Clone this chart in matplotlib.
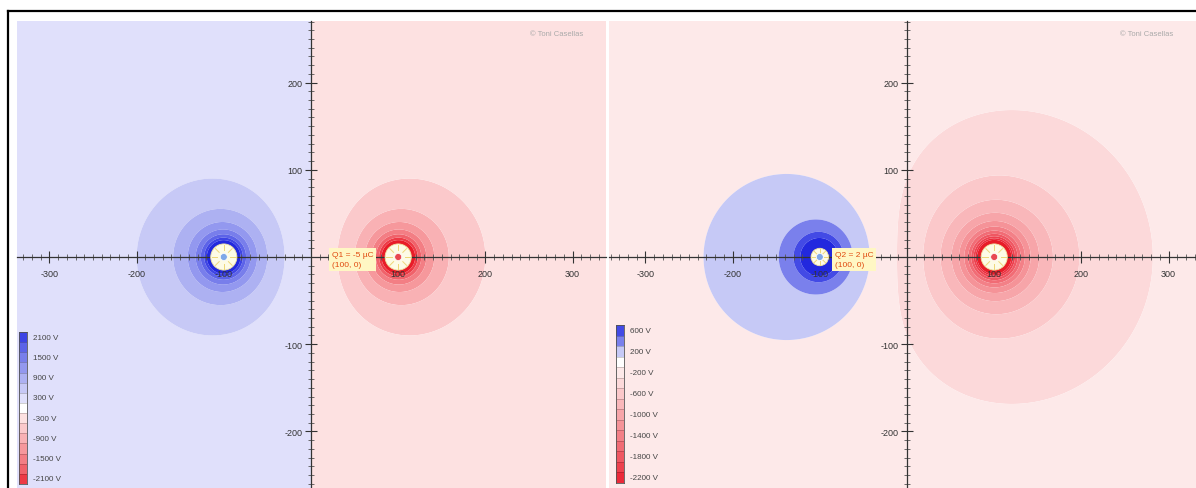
import numpy as np
import matplotlib
matplotlib.use("Agg")
import matplotlib.pyplot as plt
from matplotlib.colors import ListedColormap, BoundaryNorm
from matplotlib.ticker import MultipleLocator, FixedLocator
from matplotlib.patches import Circle
from matplotlib.lines import Line2D

plt.rcParams["font.family"] = ["Liberation Sans", "DejaVu Sans"]

# ---------------- data ----------------
K = 8990  # V * unit / uC

p1_charge_x = [-100, 100]
p1_charge_y = [0, 0]
p1_charge_q = [5, -5]
p1_levels = [-2100, -1800, -1500, -1200, -900, -600, -300, 0,
             300, 600, 900, 1200, 1500, 1800, 2100]
p1_cbar_labels = ["2100 V", "1500 V", "900 V", "300 V",
                  "-300 V", "-900 V", "-1500 V", "-2100 V"]
p1_tip = "Q1 = -5 \u00b5C\n(100, 0)"
p1_tip_xy = (24, -3)

p2_charge_x = [-100, 100]
p2_charge_y = [0, 0]
p2_charge_q = [2, -5]
p2_levels = [-2200, -2000, -1800, -1600, -1400, -1200, -1000, -800,
             -600, -400, -200, 0, 200, 400, 600]
p2_cbar_labels = ["600 V", "200 V", "-200 V", "-600 V", "-1000 V",
                  "-1400 V", "-1800 V", "-2200 V"]
p2_tip = "Q2 = 2 \u00b5C\n(100, 0)"
p2_tip_xy = (-83, -3)

xtick_vals = [-300, -200, -100, 100, 200, 300]
ytick_vals = [-200, -100, 100, 200]
watermark = "\u00a9 Toni Casellas"

# ---------------- styles ----------------
p1_blue = ["#e0e0fb", "#c7c9f6", "#adb1f2", "#9398ef", "#787eeb", "#5c63e8", "#3d44e4"]
p1_red = ["#fde1e1", "#fbc9cb", "#f9b1b4", "#f6989c", "#f37e84", "#f0626a", "#ed3a45"]
p2_blue = ["#c6c9f6", "#7a80ec", "#434ae5"]
p2_red = ["#fde9e9", "#fcd9da", "#fbc8ca", "#f9b7ba", "#f7a5a9", "#f59398",
          "#f38087", "#f16c75", "#ef5762", "#ed414e", "#eb2a3a"]
over_blue = "#2228de"
under_red = "#e81c28"

W, H = 1196, 489
S = 0.872  # px per unit
TOP, BOT, OY = 22, 489, 258

fig = plt.figure(figsize=(W / 100, H / 100), dpi=100)
fig.patch.set_facecolor("white")


def make_panel(left, right, ox, cx, cy, cq, levels, colors, cbar_cells,
               cbar_labels, cbar_px, tip, tip_xy):
    ax = fig.add_axes([left / W, 1 - BOT / H, (right - left) / W, (BOT - TOP) / H])
    x0, x1 = (left - ox) / S, (right - ox) / S
    y0, y1 = (OY - BOT) / S, (OY - TOP) / S
    gx = np.linspace(x0 - 5, x1 + 5, 1300)
    gy = np.linspace(y0 - 5, y1 + 5, 1000)
    X, Y = np.meshgrid(gx, gy)
    V = np.zeros_like(X)
    for xx, yy, q in zip(cx, cy, cq):
        r = np.hypot(X - xx, Y - yy)
        V += K * q / np.maximum(r, 0.5)
    V = np.clip(V, -1e5, 1e5)
    cmap = ListedColormap(colors)
    cmap.set_over(over_blue)
    cmap.set_under(under_red)
    norm = BoundaryNorm(levels, cmap.N)
    ax.contourf(X, Y, V, levels=levels, cmap=cmap, norm=norm, extend="both",
                antialiased=True)
    ax.set_xlim(x0, x1)
    ax.set_ylim(y0, y1)
    ax.set_aspect("auto")

    for sp in ["top", "right"]:
        ax.spines[sp].set_visible(False)
    ax.spines["left"].set_position(("data", 0))
    ax.spines["bottom"].set_position(("data", 0))
    for sp in ["left", "bottom"]:
        ax.spines[sp].set_color("#333333")
        ax.spines[sp].set_linewidth(0.9)
        ax.spines[sp].set_zorder(3)
    ax.xaxis.set_major_locator(FixedLocator(xtick_vals))
    ax.yaxis.set_major_locator(FixedLocator(ytick_vals))
    ax.xaxis.set_minor_locator(MultipleLocator(10))
    ax.yaxis.set_minor_locator(MultipleLocator(10))
    ax.tick_params(which="major", direction="inout", length=8, width=0.8,
                   color="#333333", labelsize=6.5, labelcolor="#333333", pad=2)
    ax.tick_params(axis="x", which="major", pad=5)
    ax.tick_params(which="minor", direction="inout", length=4, width=0.6,
                   color="#555555")
    ax.set_xticklabels([str(v) for v in xtick_vals])
    ax.set_yticklabels([str(v) for v in ytick_vals])

    # charges
    for xx, yy, q in zip(cx, cy, cq):
        rad = 15 if abs(q) >= 5 else 10
        ax.add_patch(Circle((xx, yy), rad, facecolor="#fdfbe6", edgecolor="#efe3a0",
                            linewidth=0.6, zorder=5))
        for a in np.linspace(0, 2 * np.pi, 8, endpoint=False):
            ax.plot([xx + 0.5 * rad * np.cos(a), xx + 0.9 * rad * np.cos(a)],
                    [yy + 0.5 * rad * np.sin(a), yy + 0.9 * rad * np.sin(a)],
                    color="#eed777", linewidth=0.7, zorder=6)
        c = "#7fa8e8" if q > 0 else "#e84850"
        ax.add_patch(Circle((xx, yy), 4, facecolor=c, edgecolor="white",
                            linewidth=0.5, zorder=7))

    ax.text(tip_xy[0], tip_xy[1], tip, fontsize=6, color="#e04a10", va="center",
            ha="left", linespacing=1.5, zorder=8,
            bbox=dict(boxstyle="square,pad=0.35", facecolor="#fff7c4",
                      edgecolor="none"))

    # colorbar
    cl, cr, ct, cb = cbar_px
    cax = fig.add_axes([cl / W, 1 - cb / H, (cr - cl) / W, (cb - ct) / H])
    n = len(cbar_cells)
    cax.pcolormesh(np.array([[i] for i in range(n)]), cmap=ListedColormap(cbar_cells),
                   edgecolors="#00000030", linewidth=0.4)
    cax.set_xlim(0, 1)
    cax.set_ylim(n, 0)
    cax.set_xticks([])
    cax.set_yticks([])
    for sp in cax.spines.values():
        sp.set_color("#555555")
        sp.set_linewidth(0.6)
    for i, lab in enumerate(cbar_labels):
        cax.text(1.8, 2 * i + 0.5, lab, fontsize=5.8, color="#444444",
                 va="center", ha="left", transform=cax.transData, clip_on=False)
    fig.text((right - 76) / W, 1 - 35 / H, watermark, fontsize=5.5,
             color="#aaaaaa", va="center", ha="left")
    return ax


make_panel(17, 606, 311, p1_charge_x, p1_charge_y, p1_charge_q, p1_levels,
           p1_red[::-1] + p1_blue, p1_blue[::-1] + ["#ffffff"] + p1_red,
           p1_cbar_labels, (19, 27, 333, 485), p1_tip, p1_tip_xy)
make_panel(609, 1196, 907, p2_charge_x, p2_charge_y, p2_charge_q, p2_levels,
           p2_red[::-1] + p2_blue, p2_blue[::-1] + ["#ffffff"] + p2_red,
           p2_cbar_labels, (616, 624, 326, 484), p2_tip, p2_tip_xy)

# outer frame
fig.add_artist(Line2D([8 / W, 1], [1 - 12 / H, 1 - 12 / H], color="black",
                      linewidth=1.6, transform=fig.transFigure))
fig.add_artist(Line2D([8 / W, 8 / W], [0, 1 - 12 / H], color="black",
                      linewidth=1.6, transform=fig.transFigure))

fig.savefig("out.png", dpi=100, facecolor="white")
